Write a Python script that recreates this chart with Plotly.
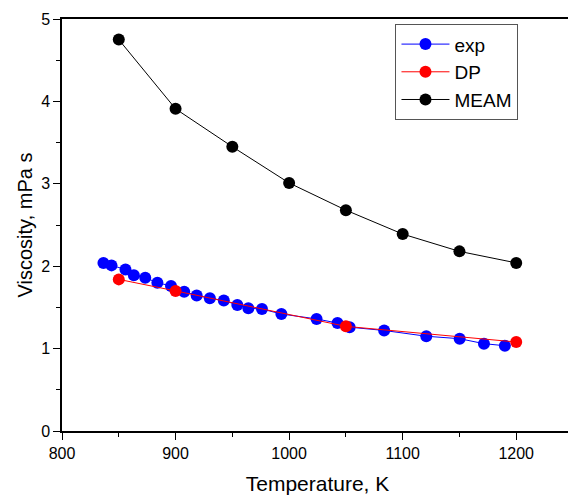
import plotly.graph_objects as go

exp_T = [836.5, 843.6, 855.9, 863.3, 873.3, 884, 896, 907.6, 918.6, 930.2, 942.5, 954.4,
         964.1, 976.1, 993.2, 1024.2, 1042.6, 1053.3, 1083.7, 1120.8, 1150.2, 1171.6, 1190]
exp_V = [2.04, 2.01, 1.96, 1.89, 1.86, 1.80, 1.76, 1.69, 1.645, 1.61, 1.585, 1.53,
         1.49, 1.48, 1.42, 1.36, 1.31, 1.26, 1.22, 1.15, 1.12, 1.06, 1.035]
dp_T = [850, 900, 1050, 1200]
dp_V = [1.84, 1.70, 1.27, 1.08]
meam_T = [850, 900, 950, 1000, 1050, 1100, 1150, 1200]
meam_V = [4.75, 3.91, 3.45, 3.01, 2.68, 2.39, 2.18, 2.04]

FONT = "Arial, Liberation Sans, sans-serif"
fig = go.Figure()
fig.add_trace(go.Scatter(x=exp_T, y=exp_V, name="exp", mode="lines+markers",
                         line=dict(color="blue", width=1),
                         marker=dict(color="blue", size=12, line=dict(width=0))))
fig.add_trace(go.Scatter(x=dp_T, y=dp_V, name="DP", mode="lines+markers",
                         line=dict(color="red", width=1),
                         marker=dict(color="red", size=12, line=dict(width=0))))
fig.add_trace(go.Scatter(x=meam_T, y=meam_V, name="MEAM", mode="lines+markers",
                         line=dict(color="black", width=1),
                         marker=dict(color="black", size=12, line=dict(width=0))))

axis_common = dict(showline=True, linecolor="black", linewidth=1.5, mirror=True,
                   ticks="outside", ticklen=7, tickwidth=1.3, tickcolor="black",
                   showgrid=False, zeroline=False,
                   tickfont=dict(family=FONT, size=16, color="black"))
fig.update_xaxes(range=[800, 1250], tick0=800, dtick=100,
                 minor=dict(ticks="outside", dtick=50, ticklen=4, tickwidth=1.3, tickcolor="black"),
                 title=dict(text="Temperature, K", font=dict(family=FONT, size=21, color="black"), standoff=17),
                 **axis_common)
fig.update_yaxes(range=[0, 5], tick0=0, dtick=1,
                 minor=dict(ticks="outside", dtick=0.5, ticklen=4, tickwidth=1.3, tickcolor="black"),
                 title=dict(text="Viscosity, mPa s", font=dict(family=FONT, size=20, color="black"), standoff=3),
                 **axis_common)
# page body has an 8px margin, so the figure is shifted by 8px; compensate
fig.update_layout(width=568, height=487, margin=dict(l=54, r=1, t=11, b=63),
                  plot_bgcolor="white", paper_bgcolor="white",
                  font=dict(family=FONT, color="black"),
                  legend=dict(x=0.652, y=0.988, xanchor="left", yanchor="top",
                              bordercolor="#555", borderwidth=1.3, bgcolor="white",
                              font=dict(family=FONT, size=19, color="black"),
                              itemwidth=48, tracegroupgap=0))
fig.write_html("out.html")
